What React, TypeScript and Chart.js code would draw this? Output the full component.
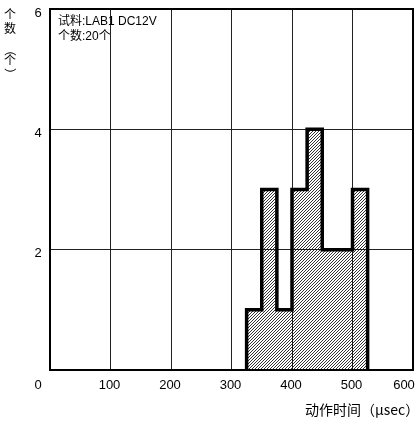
import React, { useEffect, useRef } from "react";
import { Chart, registerables } from "chart.js";

Chart.register(...registerables);

const xTicks = [0, 100, 200, 300, 400, 500, 600];
const yTicks = [2, 4, 6];
const binStarts = [325, 350, 375, 400, 425, 450, 475, 500];
const binCounts = [1, 3, 1, 3, 4, 2, 2, 3];
const binWidth = 25;
const noteLines = ["试料:LAB1 DC12V", "个数:20个"];
const yTitleChars = ["个", "数", "（", "个", "）"];
const xTitle = "动作时间（μsec）";

const FONT = "'Liberation Sans', 'Noto Sans CJK SC', sans-serif";
const CJK = "'Noto Sans CJK SC', 'Liberation Sans', sans-serif";

function makeHatch(): CanvasPattern | string {
  const c = document.createElement("canvas");
  const s = 3;
  c.width = s;
  c.height = s;
  const g = c.getContext("2d");
  if (!g) return "rgba(0,0,0,0.3)";
  g.strokeStyle = "#000";
  g.lineWidth = 0.8;
  g.beginPath();
  g.moveTo(-1, s + 1);
  g.lineTo(s + 1, -1);
  g.moveTo(-1, 1);
  g.lineTo(1, -1);
  g.moveTo(s - 1, s + 1);
  g.lineTo(s + 1, s - 1);
  g.stroke();
  const p = g.createPattern(c, "repeat");
  return p || "rgba(0,0,0,0.3)";
}

const textPlugin = {
  id: "texts",
  afterDraw(chart: any) {
    const ctx = chart.ctx;
    const xs = chart.scales.x;
    const ys = chart.scales.y;
    const area = chart.chartArea;
    ctx.save();
    // frame
    ctx.strokeStyle = "#000";
    ctx.lineWidth = 2;
    ctx.strokeRect(area.left, area.top, area.right - area.left, area.bottom - area.top);
    ctx.fillStyle = "#000";
    ctx.font = `13px ${FONT}`;
    ctx.textAlign = "center";
    ctx.textBaseline = "middle";
    xTicks.forEach((v) => {
      let px = xs.getPixelForValue(v);
      if (v === xTicks[0]) px -= 12;
      else if (v === xTicks[xTicks.length - 1]) px -= 9;
      else px -= 1;
      ctx.fillText(String(v), px, area.bottom + 15);
    });
    yTicks.forEach((v) => {
      const py = ys.getPixelForValue(v);
      ctx.fillText(String(v), area.left - 12, py + 4);
    });
    // note
    ctx.textAlign = "left";
    ctx.font = `12px ${FONT}`;
    noteLines.forEach((t, i) => {
      ctx.fillText(t, area.left + 8, area.top + 13 + i * 15);
    });
    // y title vertical
    ctx.textAlign = "center";
    ctx.font = `12px ${CJK}`;
    const yPos = [14, 28, 50, 60, 74];
    yTitleChars.forEach((ch, i) => {
      if (ch === "（" || ch === "）") {
        ctx.save();
        ctx.translate(10, yPos[i]);
        ctx.rotate(Math.PI / 2);
        ctx.fillText(ch, 0, 0);
        ctx.restore();
      } else {
        ctx.fillText(ch, 10, yPos[i]);
      }
    });
    // x title
    ctx.textAlign = "left";
    ctx.font = `14px ${CJK}`;
    ctx.fillText(xTitle, 305, 410);
    ctx.restore();
  },
};

export default function App() {
  const ref = useRef<HTMLCanvasElement>(null);
  useEffect(() => {
    document.body.style.margin = "0";
    const canvas = ref.current;
    if (!canvas) return;
    const points = [
      { x: binStarts[0], y: 0 },
      ...binStarts.map((s, i) => ({ x: s, y: binCounts[i] })),
      { x: binStarts[binStarts.length - 1] + binWidth, y: 0 },
    ];
    const chart = new Chart(canvas, {
      type: "line",
      data: {
        datasets: [
          {
            data: points,
            stepped: "before",
            borderColor: "#000",
            borderWidth: 3.5,
            borderJoinStyle: "miter",
            backgroundColor: makeHatch() as any,
            fill: "origin",
            pointRadius: 0,
            tension: 0,
          },
        ],
      },
      options: {
        animation: false,
        responsive: false,
        events: [],
        layout: { padding: { left: 50, top: 9, right: 4, bottom: 54 } },
        plugins: { legend: { display: false }, tooltip: { enabled: false } },
        scales: {
          x: {
            type: "linear",
            min: 0,
            max: 600,
            ticks: { display: false, stepSize: 100 },
            grid: { color: "#222", lineWidth: 1, drawTicks: false },
            border: { display: false },
          },
          y: {
            type: "linear",
            min: 0,
            max: 6,
            ticks: { display: false, stepSize: 2 },
            grid: { color: "#222", lineWidth: 1, drawTicks: false },
            border: { display: false },
          },
        },
      },
      plugins: [textPlugin],
    });
    return () => chart.destroy();
  }, []);
  return (
    <div style={{ width: 417, height: 424, background: "#fff" }}>
      <canvas ref={ref} width={417} height={424} />
    </div>
  );
}
